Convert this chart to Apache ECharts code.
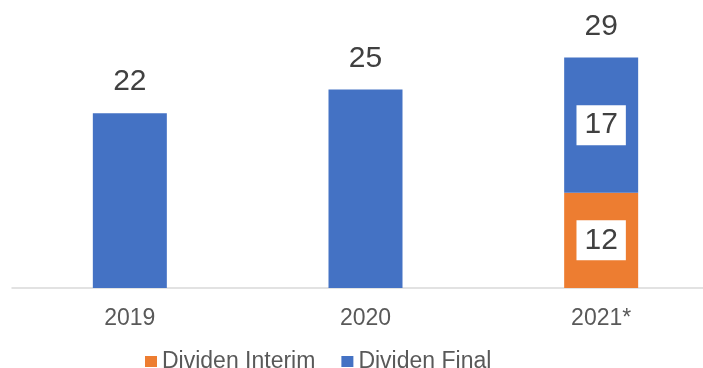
<!DOCTYPE html>
<html>
<head>
<meta charset="utf-8">
<script src="https://cdn.jsdelivr.net/npm/echarts@6/dist/echarts.min.js"></script>
<style>
html,body{margin:0;padding:0;background:#fff;overflow:hidden;width:703px;height:368px;}
#chart{width:720px;height:368px;}
</style>
</head>
<body>
<div id="chart"></div>
<script>
const categories = ['2019', '2020', '2021*'];
const interimValues = [null, null, 12];
const finalValues = [22, 25, 17];
const totalValues = [22, 25, 29];
const seriesNames = ['Dividen Interim', 'Dividen Final'];

const chart = echarts.init(document.getElementById('chart'), null, {renderer: 'canvas'});

const FONT = 'Liberation Sans, Arial, sans-serif';
const boxLabel = {
  show: true,
  position: 'inside',
  backgroundColor: '#ffffff',
  color: '#404040',
  fontFamily: FONT,
  fontSize: 30,
  padding: [6, 8, 4, 8]
};

const option = {
  animation: false,
  grid: {left: 12, right: 1, top: 2, height: 286},
  legend: {
    data: seriesNames,
    left: 140,
    top: 345,
    itemWidth: 12,
    itemHeight: 11,
    itemGap: 26,
    icon: 'rect',
    textStyle: {color: '#595959', fontSize: 23, fontFamily: FONT}
  },
  xAxis: {
    type: 'category',
    data: categories,
    axisLine: {lineStyle: {color: '#d9d9d9', width: 1.5}},
    axisTick: {show: false},
    axisLabel: {color: '#595959', fontSize: 23, margin: 19, fontFamily: FONT}
  },
  yAxis: {
    type: 'value', min: 0, max: 36,
    show: false,
    splitLine: {show: false}
  },
  series: [
    {
      name: seriesNames[0], type: 'bar', stack: 'div', barWidth: 74,
      itemStyle: {color: '#ED7D31'},
      data: interimValues.map(v => v == null ? null : {value: v, label: boxLabel})
    },
    {
      name: seriesNames[1], type: 'bar', stack: 'div', barWidth: 74,
      itemStyle: {color: '#4472C4'},
      data: finalValues.map((v, i) => interimValues[i] == null ? v : {value: v, label: boxLabel})
    },
    {
      name: 'total', type: 'bar', barWidth: 74, barGap: '-100%', silent: true,
      itemStyle: {color: 'rgba(0,0,0,0)'},
      label: {
        show: true, position: 'top', distance: 16, color: '#404040', fontSize: 30,
        fontFamily: FONT
      },
      data: totalValues
    }
  ]
};
chart.setOption(option);
</script>
</body>
</html>
